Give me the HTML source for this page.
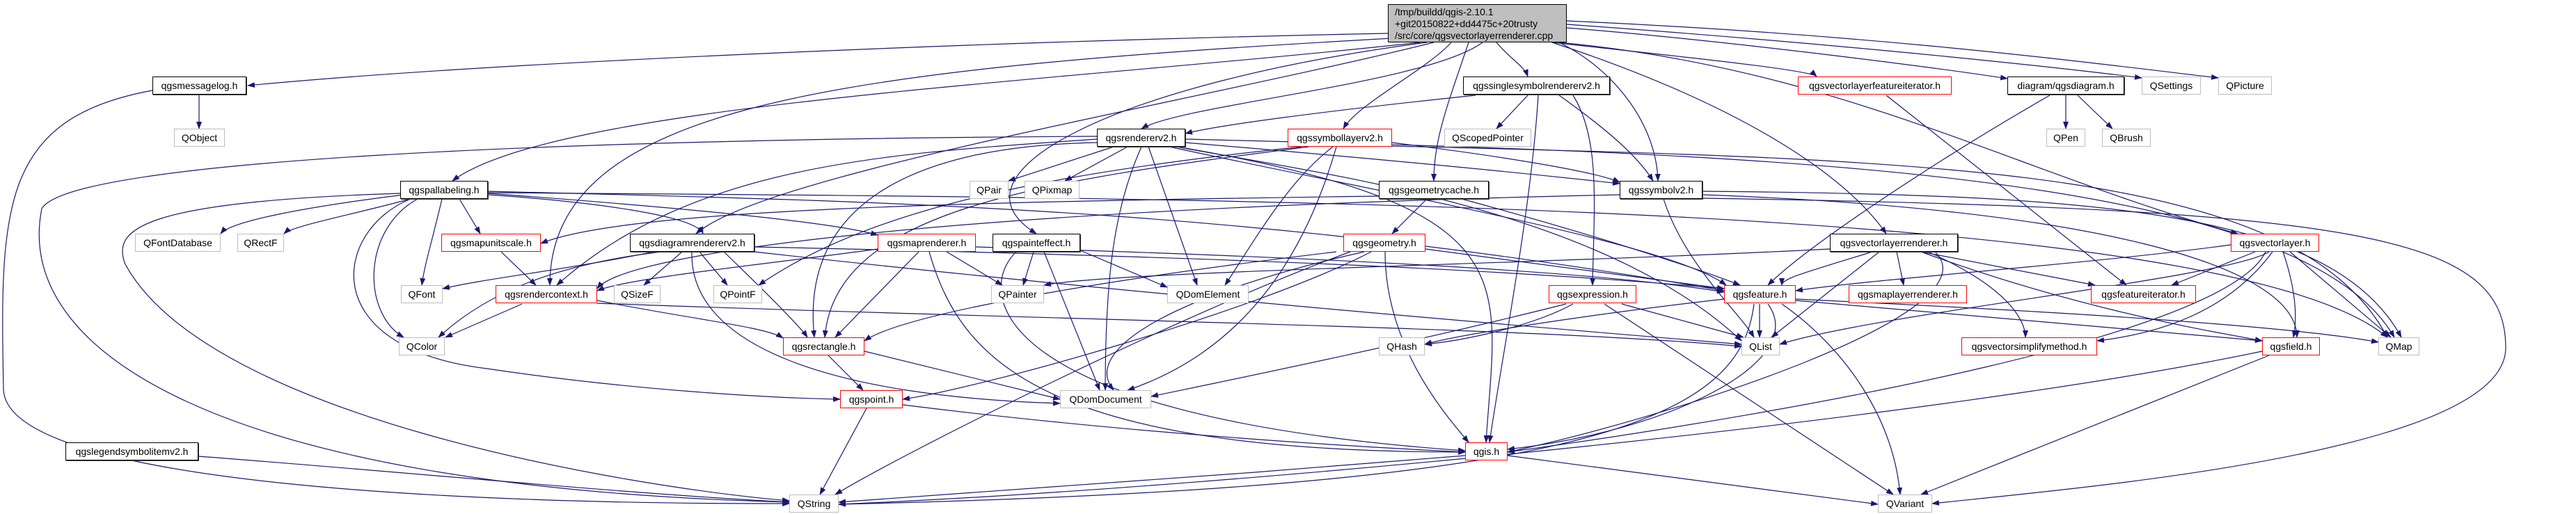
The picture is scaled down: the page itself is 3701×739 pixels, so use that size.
<!DOCTYPE html>
<html><head><meta charset="utf-8"><style>
html,body{margin:0;padding:0;background:#fff;}
#c{position:relative;width:3701px;height:739px;overflow:hidden;font-family:"Liberation Sans",sans-serif;}
svg{position:absolute;left:0;top:0;}
.n{position:absolute;box-sizing:border-box;height:26px;display:flex;align-items:center;justify-content:center;font-size:14px;color:#000;background:#fff;white-space:nowrap;}
.g{border:1.5px solid #bdbdbd;}
.b{border:1.5px solid #000;box-shadow:1px 1px 0 #444;}
.r{border:1.5px solid #ff0000;}
.r1{top:110px}.r2{top:185px}.r3{top:260px}.r4{top:336px}.r5{top:410px}.r6{top:485px}.r7{top:561px}.r8{top:636px}.r9{top:711px}
#root{position:absolute;left:1994px;top:6px;width:257px;height:55px;box-sizing:border-box;background:#bfbfbf;border:1.5px solid #000;font-size:14px;line-height:17px;padding:2px 0 0 9px;}
</style></head><body><div id="c">
<svg width="3701" height="739" viewBox="0 0 3701 739">
<defs><marker id="a" markerWidth="11" markerHeight="8" refX="10" refY="4" orient="auto" markerUnits="userSpaceOnUse"><path d="M0,0 L11,4 L0,8 z" fill="#191970"/></marker></defs>
<g fill="none" stroke="#191970" stroke-width="1.2" marker-end="url(#a)">
<path d="M1994,48 C1400,60 700,90 356,123"/>
<path d="M2040,61 C1500,120 800,150 650,260"/>
<path d="M2000,55 C1200,100 790,150 790,410"/>
<path d="M2060,61 C1700,150 1100,250 1000,336"/>
<path d="M2130,61 C2050,120 1700,150 1640,185"/>
<path d="M2050,61 C1600,120 1350,250 1489,336"/>
<path d="M2085,61 C2050,100 1950,150 1930,185"/>
<path d="M2110,61 C2080,150 2060,200 2060,260"/>
<path d="M2150,61 C2170,85 2190,95 2195,110"/>
<path d="M2240,61 C2320,100 2380,180 2382,260"/>
<path d="M2230,61 C2400,80 2600,100 2610,110"/>
<path d="M2251,40 C2500,60 2800,100 2884,113"/>
<path d="M2251,35 C2600,60 2900,90 3077,112"/>
<path d="M2251,30 C2700,50 3000,90 3187,112"/>
<path d="M2230,61 C2500,150 2650,250 2710,336"/>
<path d="M2240,61 C2650,100 2900,250 3215,336"/>
<path d="M286,137 L286,185"/>
<path d="M219,130 C0,170 0,300 5,560 C10,700 700,725 1134,724"/>
<path d="M580,280 C420,300 330,320 317,336"/>
<path d="M590,286 C500,310 420,325 408,336"/>
<path d="M635,286 C620,350 610,380 606,410"/>
<path d="M660,286 L690,336"/>
<path d="M600,286 C520,330 520,450 580,485"/>
<path d="M575,278 C200,290 160,330 180,380 C300,600 900,700 1134,720"/>
<path d="M701,280 C850,290 1000,310 1010,336"/>
<path d="M701,278 C1000,300 1200,320 1261,338"/>
<path d="M701,275 C1300,290 1800,300 2477,418"/>
<path d="M590,286 C480,330 450,500 700,530 C900,560 1100,572 1207,574"/>
<path d="M701,277 C1800,285 3200,290 3430,485"/>
<path d="M720,362 L770,410"/>
<path d="M750,437 L640,485"/>
<path d="M858,432 C1000,460 1100,470 1125,486"/>
<path d="M858,436 C1500,460 2200,470 2502,498"/>
<path d="M285,656 C600,680 900,710 1134,722"/>
<path d="M1600,211 L1449,260"/>
<path d="M1620,211 L1530,260"/>
<path d="M1640,211 C1600,300 1588,400 1588,561"/>
<path d="M1650,211 L1720,410"/>
<path d="M1703,205 C2000,230 2200,250 2327,264"/>
<path d="M1576,200 C1300,220 1000,230 800,410"/>
<path d="M1576,205 C1300,210 1150,300 1170,485"/>
<path d="M1576,196 C800,200 100,230 60,300 C20,500 300,700 1134,722"/>
<path d="M1690,211 C1900,250 2300,300 2502,490"/>
<path d="M1703,200 C2500,220 3300,240 3440,485"/>
<path d="M1680,211 C2000,280 2400,350 2480,410"/>
<path d="M1703,213 C2200,300 2150,400 2135,636"/>
<path d="M980,362 L925,410"/>
<path d="M1005,362 L1045,410"/>
<path d="M950,362 C800,380 700,420 630,485"/>
<path d="M1040,362 C1100,420 1150,470 1160,485"/>
<path d="M994,362 C990,500 1200,570 1523,580"/>
<path d="M1084,355 C1800,370 2200,390 2477,415"/>
<path d="M940,362 C800,390 700,400 636,415"/>
<path d="M1084,362 C1600,420 2200,470 2502,495"/>
<path d="M1360,362 L1440,410"/>
<path d="M1320,362 L1200,485"/>
<path d="M1335,362 C1380,520 1500,650 2105,650"/>
<path d="M1261,358 C1100,380 900,400 858,418"/>
<path d="M1402,355 C1900,370 2300,390 2477,420"/>
<path d="M1485,362 L1470,410"/>
<path d="M1500,362 L1580,561"/>
<path d="M1552,360 L1677,413"/>
<path d="M1460,362 C1400,420 1420,600 2105,648"/>
<path d="M1190,511 L1240,561"/>
<path d="M1242,505 L1523,574"/>
<path d="M1245,587 L1178,711"/>
<path d="M1297,582 C1600,620 1900,640 2105,650"/>
<path d="M2105,655 C1800,680 1400,710 1205,722"/>
<path d="M2166,655 L2698,725"/>
<path d="M2120,137 C1900,160 1750,180 1703,192"/>
<path d="M2195,137 L2150,185"/>
<path d="M2240,137 C2300,180 2350,220 2375,260"/>
<path d="M2260,137 C2300,200 2290,300 2288,410"/>
<path d="M2210,137 C2200,300 2160,500 2140,636"/>
<path d="M2000,205 C2200,230 2300,250 2327,262"/>
<path d="M1915,211 C1850,260 1800,350 1760,410"/>
<path d="M1920,211 C1880,350 1800,500 1620,561"/>
<path d="M1870,211 C1500,250 1250,300 1090,410"/>
<path d="M1880,211 C1500,260 1200,300 1185,485"/>
<path d="M2000,210 C2800,230 3300,240 3430,485"/>
<path d="M2050,286 L2000,336"/>
<path d="M2100,286 C2300,340 2450,390 2500,410"/>
<path d="M1981,282 C1400,290 900,300 777,350"/>
<path d="M2390,286 C2420,380 2500,450 2520,485"/>
<path d="M2446,275 C3000,280 3350,300 3450,485"/>
<path d="M2446,280 C3000,300 3300,380 3300,485"/>
<path d="M2327,280 C1400,300 900,360 858,415"/>
<path d="M1960,362 C1700,420 1550,500 1600,561"/>
<path d="M1970,362 C1800,450 1400,560 1297,574"/>
<path d="M1990,362 C1990,500 2080,600 2110,636"/>
<path d="M2048,358 L2477,415"/>
<path d="M1940,362 C1700,450 1300,650 1200,711"/>
<path d="M1920,362 C1600,400 1300,450 1242,490"/>
<path d="M2260,437 C2200,470 2100,490 2047,495"/>
<path d="M2330,437 L2505,485"/>
<path d="M2305,437 L2720,711"/>
<path d="M2250,437 C2000,500 1700,560 1654,570"/>
<path d="M2528,437 L2528,485"/>
<path d="M2477,430 C2300,450 2100,480 2047,495"/>
<path d="M2540,437 C2600,520 2400,620 2166,646"/>
<path d="M2580,432 C2900,460 3150,480 3250,490"/>
<path d="M2580,430 C3000,450 3300,470 3417,492"/>
<path d="M2560,437 C2650,500 2720,600 2730,711"/>
<path d="M2520,437 C2500,600 2300,700 1205,725"/>
<path d="M2690,362 C2600,390 2560,400 2560,410"/>
<path d="M2700,362 L2545,485"/>
<path d="M2725,362 L2735,410"/>
<path d="M2760,362 L3010,410"/>
<path d="M2770,362 C2900,420 2910,470 2910,485"/>
<path d="M2760,362 C3000,450 3200,480 3250,490"/>
<path d="M2629,358 C2200,380 1600,390 1500,410"/>
<path d="M2780,362 C2870,450 2400,600 2166,650"/>
<path d="M3205,352 C3000,380 2700,400 2580,418"/>
<path d="M3240,362 L3120,410"/>
<path d="M3290,362 L3435,485"/>
<path d="M3280,362 C3300,420 3300,460 3295,485"/>
<path d="M3265,362 C3200,450 3100,480 3013,490"/>
<path d="M3255,362 C3200,480 2600,590 2166,650"/>
<path d="M3260,362 C3200,400 2700,450 2557,495"/>
<path d="M2710,137 L3055,410"/>
<path d="M2968,137 L2968,185"/>
<path d="M2985,137 L3035,185"/>
<path d="M2945,137 C2800,220 2600,350 2540,410"/>
<path d="M3260,511 L2760,711"/>
<path d="M3250,505 C2800,600 1800,700 1205,725"/>
<path d="M2446,285 C3400,300 3600,340 3600,500 C3600,650 3000,700 2776,724"/>
</g></svg>
<div id="root">/tmp/buildd/qgis-2.10.1<br>+git20150822+dd4475c+20trusty<br>/src/core/qgsvectorlayerrenderer.cpp</div>
<div class="n b r1" style="left:219px;width:135px">qgsmessagelog.h</div>
<div class="n g r2" style="left:250px;width:73px">QObject</div>
<div class="n b r3" style="left:575px;width:126px">qgspallabeling.h</div>
<div class="n g r4" style="left:194px;width:123px">QFontDatabase</div>
<div class="n g r4" style="left:341px;width:67px">QRectF</div>
<div class="n r r4" style="left:634px;width:143px">qgsmapunitscale.h</div>
<div class="n g r5" style="left:576px;width:60px">QFont</div>
<div class="n r r5" style="left:712px;width:146px">qgsrendercontext.h</div>
<div class="n g r6" style="left:573px;width:66px">QColor</div>
<div class="n b r8" style="left:94px;width:191px">qgslegendsymbolitemv2.h</div>
<div class="n b r2" style="left:1576px;width:127px">qgsrendererv2.h</div>
<div class="n g r3" style="left:1393px;width:56px">QPair</div>
<div class="n g r3" style="left:1472px;width:79px">QPixmap</div>
<div class="n b r4" style="left:905px;width:179px">qgsdiagramrendererv2.h</div>
<div class="n r r4" style="left:1261px;width:141px">qgsmaprenderer.h</div>
<div class="n b r4" style="left:1426px;width:126px">qgspainteffect.h</div>
<div class="n g r5" style="left:882px;width:67px">QSizeF</div>
<div class="n g r5" style="left:1025px;width:70px">QPointF</div>
<div class="n g r5" style="left:1424px;width:76px">QPainter</div>
<div class="n g r5" style="left:1677px;width:117px">QDomElement</div>
<div class="n r r6" style="left:1125px;width:117px">qgsrectangle.h</div>
<div class="n r r7" style="left:1207px;width:90px">qgspoint.h</div>
<div class="n g r7" style="left:1523px;width:131px">QDomDocument</div>
<div class="n g r9" style="left:1134px;width:71px">QString</div>
<div class="n b r1" style="left:2102px;width:211px">qgssinglesymbolrendererv2.h</div>
<div class="n r r1" style="left:2583px;width:221px">qgsvectorlayerfeatureiterator.h</div>
<div class="n r r2" style="left:1850px;width:150px">qgssymbollayerv2.h</div>
<div class="n g r2" style="left:2075px;width:125px">QScopedPointer</div>
<div class="n b r3" style="left:1981px;width:158px">qgsgeometrycache.h</div>
<div class="n b r3" style="left:2327px;width:119px">qgssymbolv2.h</div>
<div class="n r r4" style="left:1930px;width:118px">qgsgeometry.h</div>
<div class="n b r4" style="left:2629px;width:184px">qgsvectorlayerrenderer.h</div>
<div class="n r r5" style="left:2225px;width:126px">qgsexpression.h</div>
<div class="n r r5" style="left:2477px;width:103px">qgsfeature.h</div>
<div class="n r r5" style="left:2656px;width:170px">qgsmaplayerrenderer.h</div>
<div class="n g r6" style="left:1981px;width:66px">QHash</div>
<div class="n g r6" style="left:2502px;width:55px">QList</div>
<div class="n r r8" style="left:2105px;width:61px">qgis.h</div>
<div class="n g r9" style="left:2698px;width:78px">QVariant</div>
<div class="n b r1" style="left:2884px;width:168px">diagram/qgsdiagram.h</div>
<div class="n g r1" style="left:3077px;width:85px">QSettings</div>
<div class="n g r1" style="left:3187px;width:77px">QPicture</div>
<div class="n g r2" style="left:2940px;width:56px">QPen</div>
<div class="n g r2" style="left:3020px;width:70px">QBrush</div>
<div class="n r r4" style="left:3205px;width:127px">qgsvectorlayer.h</div>
<div class="n r r5" style="left:3004px;width:151px">qgsfeatureiterator.h</div>
<div class="n r r6" style="left:2818px;width:195px">qgsvectorsimplifymethod.h</div>
<div class="n r r6" style="left:3250px;width:83px">qgsfield.h</div>
<div class="n g r6" style="left:3417px;width:59px">QMap</div>
</div></body></html>
